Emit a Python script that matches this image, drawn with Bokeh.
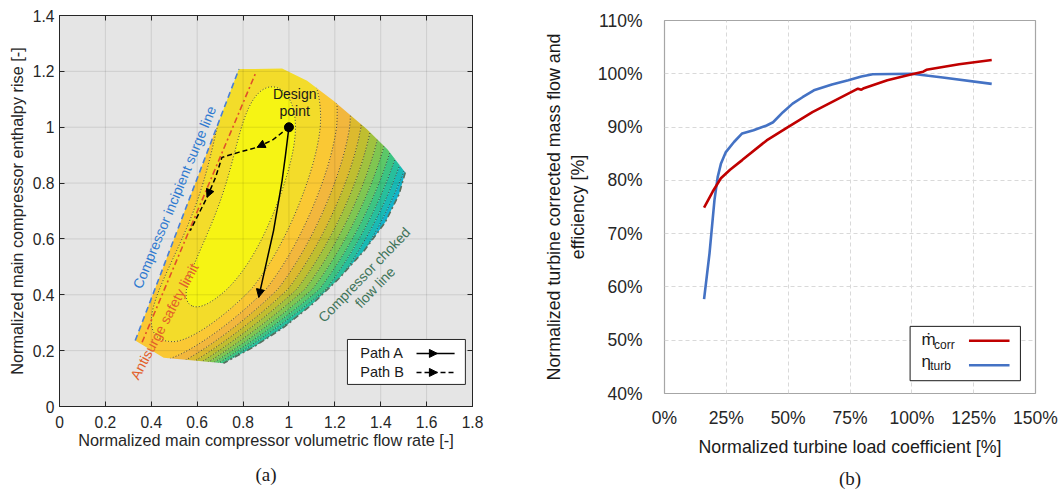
import numpy as np
from bokeh.plotting import figure
from bokeh.layouts import row
from bokeh.models import FixedTicker, LinearAxis, Range1d, Title, Arrow, NormalHead
from bokeh.core.properties import value
from bokeh.embed import file_html
from bokeh.resources import INLINE

SANS = "Liberation Sans"
SERIF = "Liberation Serif"

# ============ (a) main compressor map ============
map_x_ticks = [0, 0.2, 0.4, 0.6, 0.8, 1, 1.2, 1.4, 1.6, 1.8]
map_x_labels = ["0", "0.2", "0.4", "0.6", "0.8", "1", "1.2", "1.4", "1.6", "1.8"]
map_y_ticks = [0, 0.2, 0.4, 0.6, 0.8, 1, 1.2, 1.4]
map_y_labels = ["0", "0.2", "0.4", "0.6", "0.8", "1", "1.2", "1.4"]

# operating envelope of the compressor
surge_x = [0.33, 0.782]
surge_y = [0.236, 1.208]
antisurge_x = [0.36, 0.858]
antisurge_y = [0.23, 1.20]
top_edge_x = [0.782, 0.97, 1.079, 1.194, 1.34, 1.43, 1.507]
top_edge_y = [1.208, 1.21, 1.166, 1.095, 0.993, 0.92, 0.838]
choke_x = [1.507, 1.48, 1.42, 1.33, 1.22, 1.10, 0.98, 0.85, 0.715]
choke_y = [0.838, 0.76, 0.66, 0.56, 0.46, 0.365, 0.285, 0.215, 0.155]
bottom_edge_x = [0.715, 0.454, 0.33]
bottom_edge_y = [0.155, 0.175, 0.236]

# isentropic efficiency island model
ridge_x_at_design = 0.91      # ridge position at enthalpy rise 1
ridge_lin = -0.181
ridge_quad = -0.47
island_y0 = 0.73
island_len_top = 0.40
island_len_bot = 0.36
width_left = 0.12
width_right_y = [0.15, 0.42, 1.0]
width_right = [0.07, 0.107, 0.122]
eff_drop = 0.026

contour_levels = [0.97, 0.905, 0.84, 0.775, 0.71, 0.645, 0.58, 0.515,
                  0.45, 0.385, 0.32, 0.255, 0.19, 0.125, 0.06]
band_colors = ["#F6F414", "#F3DC2A", "#FAC834", "#F2B73D", "#DCBA2E", "#BFBE30",
               "#A0C23F", "#7FC651", "#5CC868", "#3CC482", "#27BF9C", "#19BAB5",
               "#12B4CB", "#18A6DC", "#2494E4", "#2E82E8"]

design_point = (1.0, 1.0)
path_a_x = [1.0, 0.985, 0.97, 0.933, 0.868]
path_a_y = [1.0, 0.90, 0.808, 0.63, 0.391]
path_b_x = [1.0, 0.93, 0.861, 0.78, 0.708, 0.68, 0.643, 0.57]
path_b_y = [1.0, 0.955, 0.928, 0.91, 0.892, 0.82, 0.749, 0.63]

gx = np.linspace(0.28, 1.56, 380)
gy = np.linspace(0.12, 1.25, 360)
X, Y = np.meshgrid(gx, gy)
t = 1.0 - Y
ridge = ridge_x_at_design + ridge_lin * t + ridge_quad * t ** 2
h = X - ridge
w = np.where(h > 0, np.interp(Y, width_right_y, width_right), width_left)
dy = (Y - island_y0) / np.where(Y > island_y0, island_len_top, island_len_bot)
eff = 1.0 - eff_drop * ((h / w) ** 2 + dy ** 4)

p1 = figure(width=540, height=495, x_range=Range1d(0, 1.8), y_range=Range1d(0, 1.4),
            output_backend="svg", toolbar_location=None,
            min_border_left=59, min_border_right=68, min_border_top=15, min_border_bottom=89)
p1.frame_align = False
p1.background_fill_color = "#E5E5E5"
p1.border_fill_color = "white"
p1.outline_line_color = "#262626"
p1.outline_line_width = 1
p1.grid.visible = False

for ax, ticks, labels in ((p1.xaxis[0], map_x_ticks, map_x_labels),
                          (p1.yaxis[0], map_y_ticks, map_y_labels)):
    ax.ticker = FixedTicker(ticks=ticks)
    ax.major_label_overrides = {tk: lb for tk, lb in zip(ticks, labels)}
    ax.major_tick_in = 5
    ax.major_tick_out = 0
    ax.minor_tick_line_color = None
    ax.axis_line_color = "#262626"
    ax.major_tick_line_color = "#262626"
    ax.major_label_text_font = SANS
    ax.major_label_text_font_size = "15.6px"
    ax.major_label_text_color = "#262626"
    ax.axis_label_text_font = SANS
    ax.axis_label_text_font_size = "16.3px"
    ax.axis_label_text_font_style = "normal"
    ax.axis_label_text_color = "#262626"
p1.xaxis.axis_label = "Normalized main compressor volumetric flow rate [-]"
p1.yaxis.axis_label = "Normalized main compressor enthalpy rise [-]"
p1.xaxis.major_label_standoff = 9
p1.yaxis.major_label_standoff = 5
p1.xaxis.axis_label_standoff = 0
p1.yaxis.axis_label_standoff = 4

for side, ticks in (("above", map_x_ticks), ("right", map_y_ticks)):
    extra = LinearAxis(ticker=FixedTicker(ticks=ticks), major_tick_in=5, major_tick_out=0,
                       minor_tick_line_color=None, axis_line_color="#262626",
                       major_tick_line_color="#262626", major_label_text_font_size="1px",
                       major_label_text_color=None, major_label_standoff=0)
    p1.add_layout(extra, side)

# efficiency bands and iso-efficiency lines
fill_levels = [-1000.0] + sorted(contour_levels) + [1.5]
p1.contour(gx, gy, eff, levels=fill_levels, fill_color=band_colors[::-1], line_color=None)
p1.contour(gx, gy, eff, levels=sorted(contour_levels), line_color="#2A2A2A",
           line_dash="1 2", line_width=0.9)

# blank out everything outside the envelope
env_x = list(surge_x) + top_edge_x[1:] + choke_x[1:] + bottom_edge_x[1:-1]
env_y = list(surge_y) + top_edge_y[1:] + choke_y[1:] + bottom_edge_y[1:-1]
p1.multi_polygons(xs=[[[[0, 1.8, 1.8, 0], env_x]]], ys=[[[[0, 0, 1.4, 1.4], env_y]]],
                  fill_color="#E5E5E5", line_color=None)

# grid on top of the map
gxs = [[v, v] for v in map_x_ticks[1:-1]] + [[0, 1.8] for _ in map_y_ticks[1:-1]]
gys = [[0, 1.4] for _ in map_x_ticks[1:-1]] + [[v, v] for v in map_y_ticks[1:-1]]
p1.multi_line(gxs, gys, line_color="black", line_alpha=0.1, line_width=1)

# limits
p1.line(choke_x, choke_y, line_color="#55705F", line_dash="6 3 2 3", line_width=1.6)
p1.line(surge_x, surge_y, line_color="#4A7FD6", line_dash="6 4", line_width=1.6)
p1.line(antisurge_x, antisurge_y, line_color="#E0502A", line_dash="6 3 2 3", line_width=1.6)

# off-design paths
p1.line(path_a_x, path_a_y, line_color="black", line_width=1.5)
p1.line(path_b_x, path_b_y, line_color="black", line_width=1.5, line_dash="5 3")


def head(fig, xs, ys, i):
    fig.add_layout(Arrow(end=NormalHead(size=8, fill_color="black", line_color="black"),
                         x_start=xs[i - 1], y_start=ys[i - 1], x_end=xs[i], y_end=ys[i],
                         line_alpha=0))


head(p1, path_a_x, path_a_y, len(path_a_x) - 1)
head(p1, path_b_x, path_b_y, 2)
head(p1, path_b_x, path_b_y, 6)
p1.scatter([design_point[0]], [design_point[1]], size=9, color="black")

txt = dict(text_font=value(SANS), text_align="center", text_baseline="middle")
p1.text([1.025, 1.025], [1.119, 1.059], ["Design", "point"], text_font_size="14px",
        text_color="#1A1A1A", **txt)
p1.text([0.501], [0.749], ["Compressor incipient surge line"], angle=np.deg2rad(67.5),
        text_font_size="14px", text_color="#2F7AD0", **txt)
p1.text([0.457], [0.305], ["Antisurge safety limit"], angle=np.deg2rad(62),
        text_font_size="14px", text_color="#E2602A", **txt)
p1.text([1.328, 1.375], [0.472, 0.427], ["Compressor choked", "flow line"],
        angle=np.deg2rad(46), text_font_size="14px", text_color="#3F7459", **txt)

# legend
p1.quad(left=[1.255], right=[1.769], bottom=[0.079], top=[0.24],
        fill_color="white", line_color="#262626", line_width=1)
p1.text([1.311, 1.311], [0.19, 0.122], ["Path A", "Path B"], text_font=value(SANS),
        text_font_size="14.5px", text_color="#1A1A1A", text_baseline="middle")
leg_x = [1.556, 1.647, 1.722]
p1.line(leg_x, [0.19] * 3, line_color="black", line_width=1.5)
p1.line(leg_x, [0.122] * 3, line_color="black", line_width=1.5, line_dash="5 3")
head(p1, leg_x, [0.19] * 3, 1)
head(p1, leg_x, [0.122] * 3, 1)
p1.add_layout(Title(text="(a)", align="center", text_font=SERIF, text_font_size="19px",
                    text_font_style="normal", text_color="#1A1A1A", standoff=21), "below")

# ============ (b) turbine characteristics ============
load_ticks = [0, 25, 50, 75, 100, 125, 150]
load_labels = ["0%", "25%", "50%", "75%", "100%", "125%", "150%"]
pct_ticks = [40, 50, 60, 70, 80, 90, 100, 110]
pct_labels = ["40%", "50%", "60%", "70%", "80%", "90%", "100%", "110%"]

load_mcorr = [16.0, 19.5, 22.8, 26.5, 31.4, 41.3, 49.9, 59.8, 69.0, 78.2, 79.6, 80.6,
              90.1, 100.0, 104.6, 105.9, 119.1, 132.3]
mcorr = [74.9, 77.9, 80.4, 82.0, 83.8, 87.5, 90.0, 92.8, 95.0, 97.2, 97.0, 97.3,
         98.8, 99.9, 100.4, 100.75, 101.8, 102.6]
load_eta = [16.0, 18.2, 20.2, 21.5, 22.8, 24.8, 28.1, 31.4, 36.0, 41.3, 43.9, 47.9,
            51.8, 55.8, 60.4, 67.7, 74.3, 79.6, 84.2, 100.0, 112.5, 132.3]
eta = [57.7, 66.3, 76.3, 80.6, 83.1, 85.3, 87.2, 88.8, 89.4, 90.3, 90.9, 92.8,
       94.4, 95.6, 96.9, 98.0, 98.8, 99.5, 99.9, 100.0, 99.3, 98.1]

p2 = figure(width=520, height=495, x_range=Range1d(0, 150), y_range=Range1d(40, 110),
            output_backend="svg", toolbar_location=None,
            min_border_left=116, min_border_right=25, min_border_top=20, min_border_bottom=101)
p2.frame_align = False
p2.background_fill_color = "white"
p2.border_fill_color = "white"
p2.outline_line_color = "#A6A6A6"
p2.outline_line_width = 1.2
p2.grid.grid_line_color = "#D9D9D9"
p2.grid.grid_line_dash = "4 3"
p2.grid.grid_line_width = 1

for ax, ticks, labels in ((p2.xaxis[0], load_ticks, load_labels),
                          (p2.yaxis[0], pct_ticks, pct_labels)):
    ax.ticker = FixedTicker(ticks=ticks)
    ax.major_label_overrides = {tk: lb for tk, lb in zip(ticks, labels)}
    ax.axis_line_color = None
    ax.major_tick_line_color = None
    ax.minor_tick_line_color = None
    ax.major_label_text_font = SANS
    ax.major_label_text_font_size = "17.5px"
    ax.major_label_text_color = "#262626"
    ax.axis_label_text_font = SANS
    ax.axis_label_text_font_size = "17.8px"
    ax.axis_label_text_font_style = "normal"
    ax.axis_label_text_color = "#1A1A1A"
p2.xaxis.axis_label = "Normalized turbine load coefficient [%]"
p2.yaxis.axis_label = "Normalized turbine corrected mass flow and\nefficiency [%]"
p2.xaxis.major_label_standoff = 8
p2.yaxis.major_label_standoff = 16
p2.xaxis.axis_label_standoff = 6
p2.yaxis.axis_label_standoff = 7

p2.line(load_eta, eta, line_color="#4472C4", line_width=2.6)
p2.line(load_mcorr, mcorr, line_color="#C00000", line_width=2.6)

p2.quad(left=[99.3], right=[143.9], bottom=[42.4], top=[52.6],
        fill_color="white", line_color="#1A1A1A", line_width=1)
p2.line([123.1, 139.5], [49.9, 49.9], line_color="#C00000", line_width=2.6)
p2.line([123.1, 139.5], [45.3, 45.3], line_color="#4472C4", line_width=2.6)
p2.text([103.9, 103.9], [50.2, 46.0], ["\u1e41", "\u03b7"], text_font=value(SANS),
        text_font_size="17px", text_color="#1A1A1A", text_baseline="middle")
p2.text([109.0, 107.4], [49.1, 45.1], ["corr", "turb"], text_font=value(SANS),
        text_font_size="12px", text_color="#1A1A1A", text_baseline="middle")
p2.add_layout(Title(text="(b)", align="center", text_font=SERIF, text_font_size="19px",
                    text_font_style="normal", text_color="#1A1A1A", standoff=13), "below")

layout = row(p1, p2)
open("out.html", "w").write(file_html(layout, INLINE))
